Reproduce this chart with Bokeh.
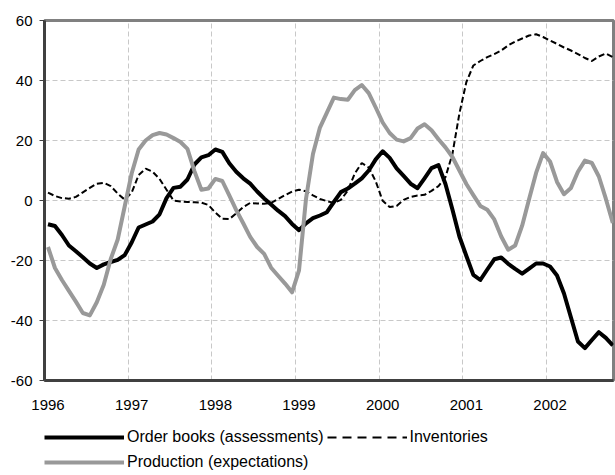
from bokeh.plotting import figure
from bokeh.layouts import column
from bokeh.models import Range1d, FixedTicker, Legend, LegendItem
from bokeh.embed import file_html
from bokeh.resources import INLINE

# ---- data (monthly, Jan 1996 .. Oct 2002) ----
years = ["1996", "1997", "1998", "1999", "2000", "2001", "2002"]

order_books = [
    -7.9, -8.5, -11.5, -15.0, -16.9, -18.9, -21.0, -22.5, -21.3, -20.5, -19.8, -18.2,   # 1996
    -14.0, -9.0, -8.0, -7.0, -4.6, 0.8, 4.2, 4.6, 7.0, 12.0, 14.4, 15.1,                # 1997
    17.0, 16.2, 12.4, 9.6, 7.4, 5.6, 3.0, 0.7, -1.3, -3.4, -5.2, -7.8,                  # 1998
    -9.9, -7.6, -5.9, -5.0, -3.9, -0.5, 2.8, 4.0, 5.6, 7.4, 10.0, 13.7,                 # 1999
    16.4, 14.2, 10.7, 8.2, 5.6, 4.1, 7.4, 10.8, 11.8, 5.5, -3.0, -12.0,                 # 2000
    -18.5, -24.8, -26.5, -23.0, -19.6, -19.0, -21.1, -22.8, -24.4, -22.7, -21.0, -21.0, # 2001
    -22.0, -25.0, -31.0, -39.0, -47.0, -49.2, -46.5, -43.9, -45.8, -48.3,               # 2002
]

inventories = [
    2.6, 1.5, 0.8, 0.6, 1.2, 2.7, 4.2, 5.6, 5.9, 4.8, 2.3, 0.3,
    2.6, 8.5, 10.6, 9.6, 7.2, 3.6, 0.0, -0.3, -0.5, -0.6, -0.7, -1.5,
    -4.0, -6.1, -6.2, -4.3, -2.2, -0.8, -1.0, -1.1, -0.8, 0.5, 1.8, 3.0,
    3.6, 3.1, 1.7, 0.5, -0.2, -0.8, 0.2, 3.3, 9.0, 12.5, 11.0, 6.4,
    -0.1, -2.2, -1.8, 0.2, 1.2, 1.7, 1.9, 3.2, 4.8, 7.8, 15.5, 29.0,
    39.5, 45.0, 46.5, 47.8, 48.8, 50.0, 51.7, 53.0, 54.0, 55.0, 55.4, 54.5,
    53.3, 52.2, 51.0, 50.0, 48.8, 47.5, 46.5, 48.0, 49.0, 47.8,
]

production = [
    -15.5, -22.5, -26.5, -30.1, -33.7, -37.5, -38.3, -33.9, -28.1, -19.5, -13.0, -2.0,
    9.0, 17.0, 20.0, 21.8, 22.5, 22.0, 20.8, 19.5, 17.2, 9.8, 3.6, 4.0,
    7.2, 6.5, 1.7, -3.2, -7.6, -12.1, -15.5, -17.8, -22.4, -25.1, -27.7, -30.6,
    -23.3, 0.5, 15.5, 24.3, 29.3, 34.3, 33.8, 33.6, 36.8, 38.5, 35.8, 31.0,
    26.0, 22.5, 20.3, 19.7, 20.8, 24.0, 25.4, 23.4, 20.4, 17.7, 14.5, 10.0,
    5.5, 1.8, -1.8, -3.1, -6.3, -12.0, -16.4, -15.0, -8.4, 0.5, 9.2, 15.8,
    13.0, 6.2, 2.1, 4.2, 9.6, 13.3, 12.5, 8.0, 0.6, -7.5,
]

y_ticks = [-60, -40, -20, 0, 20, 40, 60]
y_labels = ["-60", "-40", "-20", "0", "20", "40", "60"]

# category centres: month index + 0.5 (months since Jan 1996)
x = [i + 0.5 for i in range(len(order_books))]

FONT = "Liberation Sans"
FS = "15px"
LEG_FS = "16px"
OB_STYLE = dict(line_color="black", line_width=4, line_join="round")
PR_STYLE = dict(line_color="#999999", line_width=4, line_join="round")

# ---------------- main chart ----------------
p = figure(width=615, height=418, output_backend="svg", toolbar_location=None,
           x_range=Range1d(0, 81.6), y_range=Range1d(-60, 60),
           min_border_left=44, min_border_right=2, min_border_top=20,
           min_border_bottom=38)
p.background_fill_color = "white"
p.border_fill_color = "white"
p.outline_line_color = "#808080"
p.outline_line_width = 3

# grids
p.xgrid.ticker = FixedTicker(ticks=[12 * k for k in range(1, 7)])
p.ygrid.ticker = FixedTicker(ticks=[-40, -20, 0, 20, 40])
for g in (p.xgrid, p.ygrid):
    g.grid_line_color = "#c8c8c8"
    g.grid_line_dash = "5 3"
    g.grid_line_width = 1

# x axis
p.xaxis.ticker = FixedTicker(ticks=[12 * k + 0.5 for k in range(len(years))])
p.xaxis.major_label_overrides = {12 * k + 0.5: years[k] for k in range(len(years))}
p.xaxis.major_tick_out = 0
p.xaxis.major_tick_in = 0
p.xaxis.minor_tick_line_color = None
p.xaxis.major_label_standoff = 19

# y axis
p.yaxis.ticker = FixedTicker(ticks=y_ticks)
p.yaxis.major_label_overrides = dict(zip(y_ticks, y_labels))
p.yaxis.major_tick_out = 5
p.yaxis.major_tick_in = 0
p.yaxis.minor_tick_line_color = None
p.yaxis.major_label_standoff = 7

for ax in (p.xaxis, p.yaxis):
    ax.axis_line_color = "#404040"
    ax.axis_line_width = 3
    ax.major_tick_line_color = "#404040"
    ax.major_label_text_font = FONT
    ax.major_label_text_font_size = FS
    ax.major_label_text_color = "black"

# series
p.line(x, order_books, **OB_STYLE)
p.line(x, inventories, line_color="black", line_width=2, line_dash="6 3")
p.line(x, production, **PR_STYLE)

# ---------------- legend strip ----------------
lf = figure(width=615, height=57, output_backend="svg", toolbar_location=None,
            x_range=Range1d(0, 1), y_range=Range1d(0, 1),
            x_axis_location=None, y_axis_location=None,
            min_border_left=0, min_border_right=0, min_border_top=0, min_border_bottom=0)
lf.grid.visible = False
lf.outline_line_color = None
lf.background_fill_color = "white"
lf.border_fill_color = "white"

nan = float("nan")
g_ob = lf.line([nan], [nan], **OB_STYLE)
g_inv = lf.line([nan], [nan], line_color="black", line_width=2, line_dash="9 6")
g_pr = lf.line([nan], [nan], **PR_STYLE)


def make_legend(items, orientation, spacing, loc):
    lg = Legend(items=items, location=loc, orientation=orientation)
    lg.glyph_width = 80
    lg.glyph_height = 20
    lg.label_height = 20
    lg.label_standoff = 3
    lg.spacing = spacing
    lg.padding = 0
    lg.margin = 0
    lg.border_line_color = None
    lg.background_fill_alpha = 0
    lg.label_text_font = FONT
    lg.label_text_font_size = LEG_FS
    lg.label_text_color = "black"
    return lg


leg_a = make_legend([LegendItem(label="Order books (assessments)", renderers=[g_ob]),
                     LegendItem(label="Inventories", renderers=[g_inv])],
                    "horizontal", 3, (0, 28))
leg_b = make_legend([LegendItem(label="Production (expectations)", renderers=[g_pr])],
                    "vertical", 0, (0, 3))
lf.add_layout(leg_a)
lf.add_layout(leg_b)

open("out.html", "w").write(file_html(column(p, lf, spacing=0), INLINE))
